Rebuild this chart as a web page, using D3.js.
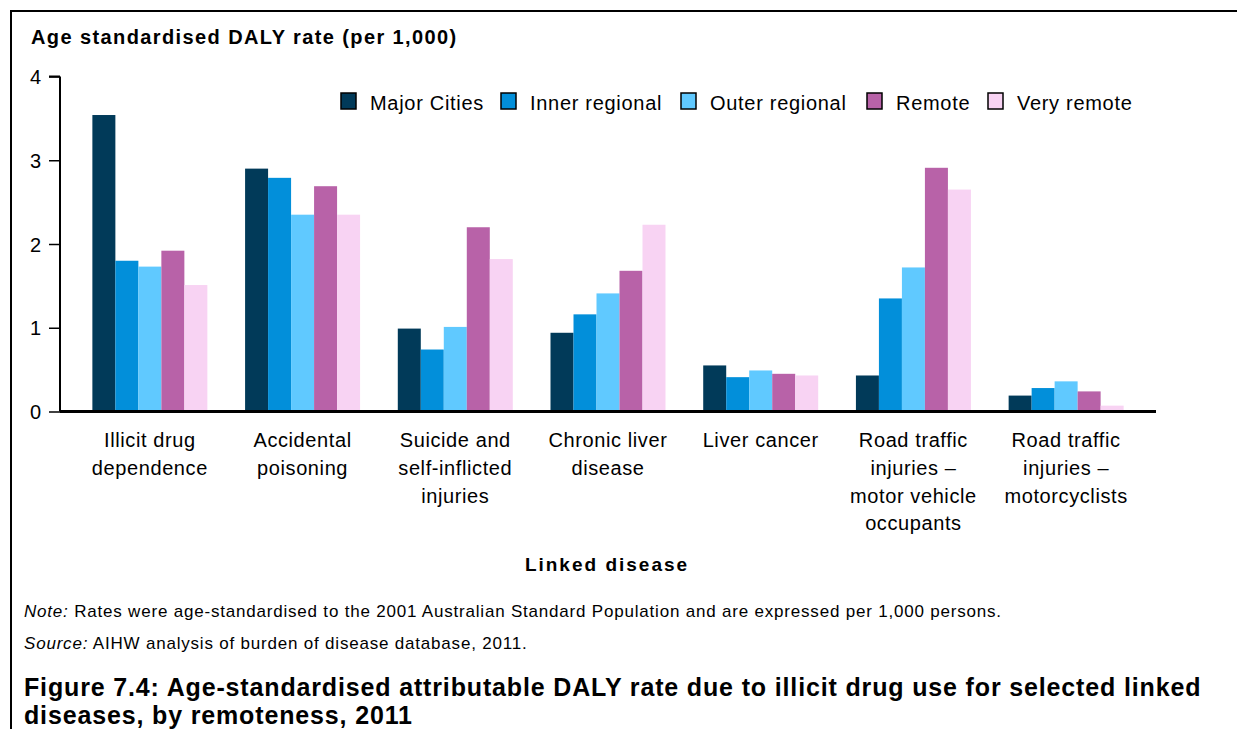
<!DOCTYPE html>
<html>
<head>
<meta charset="utf-8">
<script src="https://cdn.jsdelivr.net/npm/d3@7"></script>
<style>
  html, body { margin: 0; padding: 0; background: #fff; }
  svg { display: block; font-family: Arial, "Liberation Sans", sans-serif; }
</style>
</head>
<body>
<svg id="chart" width="1237" height="729"></svg>
<script>
// Linked diseases shown along the x axis (one array entry per label line)
const categories = [
  "Illicit drug dependence",
  "Accidental poisoning",
  "Suicide and self-inflicted injuries",
  "Chronic liver disease",
  "Liver cancer",
  "Road traffic injuries – motor vehicle occupants",
  "Road traffic injuries – motorcyclists"
];
const categoryLines = [
  ["Illicit drug", "dependence"],
  ["Accidental", "poisoning"],
  ["Suicide and", "self-inflicted", "injuries"],
  ["Chronic liver", "disease"],
  ["Liver cancer"],
  ["Road traffic", "injuries –", "motor vehicle", "occupants"],
  ["Road traffic", "injuries –", "motorcyclists"]
];

// Remoteness areas
const seriesNames = ["Major Cities", "Inner regional", "Outer regional", "Remote", "Very remote"];
const seriesColors = ["#013a59", "#028fda", "#60c9ff", "#b862a8", "#f8d3f3"];

// Age-standardised DALY rate per 1,000, one array per remoteness area
const majorCities   = [3.54, 2.90, 0.99, 0.94, 0.55, 0.43, 0.19];
const innerRegional = [1.80, 2.79, 0.74, 1.16, 0.41, 1.35, 0.28];
const outerRegional = [1.73, 2.35, 1.01, 1.41, 0.49, 1.72, 0.36];
const remote        = [1.92, 2.69, 2.20, 1.68, 0.45, 2.91, 0.24];
const veryRemote    = [1.51, 2.35, 1.82, 2.23, 0.43, 2.65, 0.07];
const seriesValues = [majorCities, innerRegional, outerRegional, remote, veryRemote];

const yTicks = [0, 1, 2, 3, 4];

const svg = d3.select("#chart");

// Frame: top and left rules
svg.append("line").attr("x1", 10).attr("x2", 1237).attr("y1", 11).attr("y2", 11)
  .attr("stroke", "#000").attr("stroke-width", 2);
svg.append("line").attr("x1", 11).attr("x2", 11).attr("y1", 10).attr("y2", 729)
  .attr("stroke", "#000").attr("stroke-width", 2);

const x0 = d3.scaleBand()
  .domain(categories)
  .range([60, 1156])
  .paddingInner(0.247)
  .paddingOuter(0.212);

const x1 = d3.scaleBand()
  .domain(seriesNames)
  .range([0, x0.bandwidth()]);

const y = d3.scaleLinear().domain([0, 4]).range([411.5, 76.5]);

// Y axis
const yAxis = svg.append("g")
  .attr("transform", "translate(60,0)")
  .call(d3.axisLeft(y).tickValues(yTicks).tickSize(11).tickPadding(8).tickFormat(d3.format("d")));
yAxis.select(".domain").attr("stroke", "#000").attr("stroke-width", 2)
  .attr("d", `M0,${y(4)}H-11M0,${y(4)}V${y(0)}`);
yAxis.selectAll(".tick line").attr("stroke", "#000").attr("stroke-width", 1.5);
yAxis.selectAll(".tick text")
  .attr("fill", "#000")
  .style("font-size", "20px")
  .attr("dy", "0.36em");

// Bars
const groups = svg.append("g").selectAll("g")
  .data(categories)
  .join("g")
  .attr("transform", d => `translate(${x0(d)},0)`);

groups.selectAll("rect")
  .data((d, i) => seriesNames.map((s, j) => ({ series: s, value: seriesValues[j][i], color: seriesColors[j] })))
  .join("rect")
  .attr("x", d => x1(d.series))
  .attr("width", x1.bandwidth())
  .attr("y", d => y(d.value))
  .attr("height", d => y(0) - y(d.value))
  .attr("fill", d => d.color);

// Baseline
svg.append("line")
  .attr("x1", 60).attr("x2", 1156)
  .attr("y1", y(0)).attr("y2", y(0))
  .attr("stroke", "#000").attr("stroke-width", 3);

// Category labels
const catLabels = svg.append("g")
  .selectAll("text")
  .data(categories)
  .join("text")
  .attr("x", d => x0(d) + x0.bandwidth() / 2)
  .attr("y", 447)
  .attr("text-anchor", "middle")
  .style("font-size", "20px")
  .style("letter-spacing", "0.6px")
  .attr("fill", "#000");
catLabels.each(function(d, i) {
  d3.select(this).selectAll("tspan")
    .data(categoryLines[i])
    .join("tspan")
    .attr("x", x0(d) + x0.bandwidth() / 2)
    .attr("dy", (l, k) => k === 0 ? 0 : 27.8)
    .text(l => l);
});

// Axis titles
svg.append("text")
  .attr("x", 31).attr("y", 44)
  .style("font-size", "20px").style("font-weight", "bold")
  .style("letter-spacing", "1.4px")
  .text("Age standardised DALY rate (per 1,000)");

svg.append("text")
  .attr("x", 607).attr("y", 571)
  .attr("text-anchor", "middle")
  .style("font-size", "19px").style("font-weight", "bold")
  .style("letter-spacing", "2px")
  .text("Linked disease");

// Legend
const legendX = [341, 501, 681, 867, 988];
const legend = svg.append("g").selectAll("g")
  .data(seriesNames)
  .join("g")
  .attr("transform", (d, i) => `translate(${legendX[i]},93)`);
legend.append("rect")
  .attr("width", 15).attr("height", 16)
  .attr("fill", (d, i) => seriesColors[i])
  .attr("stroke", "#000").attr("stroke-width", 1.5);
legend.append("text")
  .attr("x", 29).attr("y", 17)
  .style("font-size", "20px")
  .style("letter-spacing", "0.7px")
  .text(d => d);

// Notes
const note = svg.append("text").attr("x", 24).attr("y", 617)
  .style("font-size", "17px").style("letter-spacing", "0.8px");
note.append("tspan").style("font-style", "italic").text("Note:");
note.append("tspan").text(" Rates were age-standardised to the 2001 Australian Standard Population and are expressed per 1,000 persons.");

const source = svg.append("text").attr("x", 24).attr("y", 649)
  .style("font-size", "17px").style("letter-spacing", "0.8px");
source.append("tspan").style("font-style", "italic").text("Source:");
source.append("tspan").text(" AIHW analysis of burden of disease database, 2011.");

// Figure caption
const caption = svg.append("text")
  .attr("x", 24).attr("y", 696)
  .style("font-size", "25px").style("font-weight", "bold")
  .style("letter-spacing", "0.85px");
caption.append("tspan").attr("x", 24).text("Figure 7.4: Age-standardised attributable DALY rate due to illicit drug use for selected linked");
caption.append("tspan").attr("x", 24).attr("dy", 27.5).text("diseases, by remoteness, 2011");
</script>
</body>
</html>
